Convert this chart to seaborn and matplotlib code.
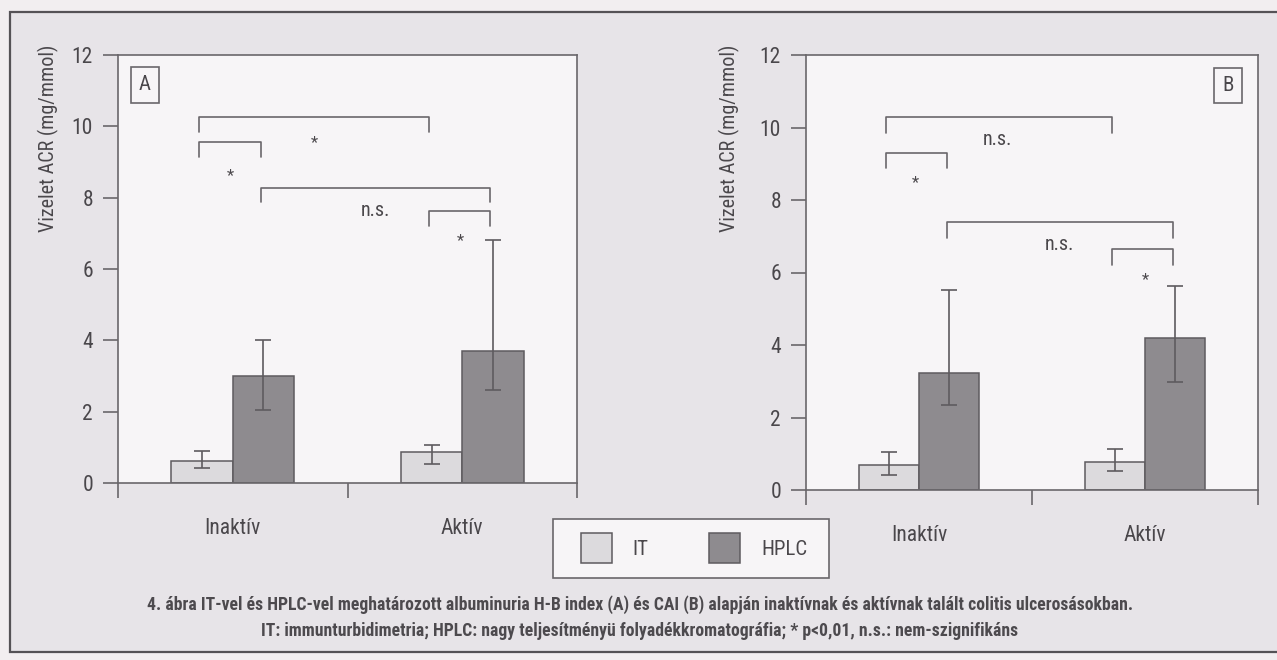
import matplotlib
matplotlib.use("Agg")
import matplotlib.pyplot as plt
from matplotlib import font_manager
from matplotlib.patches import Patch, Rectangle
import pandas as pd
import seaborn as sns

# categories and series
groups = ["Inaktív", "Aktív"]
methods = ["IT", "HPLC"]

# panel A (H-B index): means and error bar limits
a_it = [0.63, 0.88]
a_hplc = [3.0, 3.71]
a_it_low = [0.42, 0.54]
a_it_high = [0.91, 1.07]
a_hplc_low = [2.05, 2.6]
a_hplc_high = [4.0, 6.82]

# panel B (CAI)
b_it = [0.70, 0.76]
b_hplc = [3.24, 4.19]
b_it_low = [0.42, 0.53]
b_it_high = [1.06, 1.13]
b_hplc_low = [2.35, 2.99]
b_hplc_high = [5.52, 5.64]

# significance brackets: (bar i, bar j, top, leg end, label, label x, label y)
# bars: 0 Inaktív IT, 1 Inaktív HPLC, 2 Aktív IT, 3 Aktív HPLC
a_brackets = [(0, 2, 10.26, 9.85, "*", 0.354, 9.55),
              (0, 1, 9.55, 9.13, "*", -0.012, 8.63),
              (1, 3, 8.26, 7.87, "n.s.", 0.62, 7.64),
              (2, 3, 7.63, 7.2, "*", 0.99, 6.81)]
b_brackets = [(0, 2, 10.28, 9.84, "n.s.", 0.346, 9.66),
              (0, 1, 9.29, 8.87, "*", -0.016, 8.48),
              (1, 3, 7.39, 6.96, "n.s.", 0.62, 6.78),
              (2, 3, 6.66, 6.22, "*", 1.0, 5.81)]

caption_1 = ("4. ábra IT-vel és HPLC-vel meghatározott albuminuria H-B index (A) és CAI (B) "
             "alapján inaktívnak és aktívnak talált colitis ulcerosásokban.")
caption_2 = ("IT: immunturbidimetria; HPLC: nagy teljesítményü folyadékkromatográfia; "
             "* p<0,01, n.s.: nem-szignifikáns")

light = "#dcdadd"
dark = "#8e8b8f"
edge = "#5e5b5f"
line_col = "#6a676b"
text_col = "#4a474b"
ax_bg = "#f7f5f7"
fig_bg = "#e7e4e8"


def pick_font():
    # the original uses a condensed sans; take one if it is installed
    fonts = font_manager.fontManager.ttflist
    for pref in ["Liberation Sans Narrow", "Roboto Condensed", "Open Sans Condensed",
                 "Noto Sans", "DejaVu Sans", "Roboto", "Open Sans"]:
        for f in fonts:
            if f.name == pref and ("Narrow" in pref or "Condensed" in pref
                                   or f.stretch in ("condensed", "semi-condensed")):
                return f.name, (f.stretch if f.stretch != "normal" else "normal")
    for f in fonts:
        if "Narrow" in f.name or "Condensed" in f.name:
            return f.name, "normal"
    return "Liberation Sans", "normal"


family, stretch = pick_font()

sns.set_style("ticks")
plt.rcParams["font.family"] = [family, "DejaVu Sans"]
plt.rcParams["font.stretch"] = stretch
plt.rcParams["text.color"] = text_col
plt.rcParams["axes.labelcolor"] = text_col


def make_frame(it, hplc):
    return pd.DataFrame({
        "Csoport": groups * 2,
        "Módszer": [methods[0]] * 2 + [methods[1]] * 2,
        "ACR": list(it) + list(hplc),
    })


def by_bar(it_vals, hplc_vals):
    # order values like the bars from left to right
    out = []
    for k in range(len(groups)):
        out += [it_vals[k], hplc_vals[k]]
    return out


def draw_panel(ax, df, lows, highs, brackets, letter, letter_x, label_x):
    sns.barplot(data=df, x="Csoport", y="ACR", hue="Módszer", order=groups,
                hue_order=methods, palette=[light, dark], width=0.535,
                edgecolor=edge, linewidth=1.1, errorbar=None, legend=False,
                saturation=1, ax=ax)
    ax.set_facecolor(ax_bg)

    bars = sorted(ax.patches, key=lambda p: p.get_x())
    xs = [b.get_x() + b.get_width() / 2 for b in bars]
    heights = [b.get_height() for b in bars]
    ax.errorbar(xs, heights,
                yerr=[[h - lo for h, lo in zip(heights, lows)],
                      [hi - h for h, hi in zip(heights, highs)]],
                fmt="none", ecolor=edge, elinewidth=1.2, capsize=6,
                capthick=1.2, zorder=5)

    for i, j, top, leg, lab, lx, ly in brackets:
        xi, xj = xs[i] - 0.012, xs[j] - 0.012
        ax.plot([xi, xi, xj, xj], [leg, top, top, leg], color=line_col, lw=1.2)
        ax.text(lx, ly, lab, ha="center", va="center",
                fontsize=14.5 if lab == "n.s." else 12, color=text_col)

    ax.set_xlim(-0.5, 1.5)
    ax.set_ylim(0, 12)
    ax.set_yticks(range(0, 13, 2))
    ax.set_xticks([0, 1])
    ax.set_xticklabels(groups)
    ax.set_xticks([-0.5, 0.5, 1.5], minor=True)
    ax.tick_params(axis="x", which="major", length=0, pad=25,
                   labelsize=15.5, labelcolor=text_col)
    ax.tick_params(axis="x", which="minor", length=11, width=1.2,
                   direction="out", color=line_col)
    ax.tick_params(axis="y", length=11, width=1.2, direction="out",
                   color=line_col, pad=7, labelsize=15.5, labelcolor=text_col)
    for s in ax.spines.values():
        s.set_visible(True)
        s.set_color(line_col)
        s.set_linewidth(1.2)

    ax.set_xlabel("")
    ax.set_ylabel("Vizelet ACR (mg/mmol)", loc="top", fontsize=14.5)
    ax.yaxis.set_label_coords(label_x, 1.025)

    ax.text(letter_x, 0.93, letter, transform=ax.transAxes, ha="center",
            va="center", fontsize=15, color=text_col,
            bbox=dict(boxstyle="square,pad=0.4", facecolor="none",
                      edgecolor=line_col, linewidth=1.2))


W, H = 1277, 660
fig = plt.figure(figsize=(W / 100, H / 100), dpi=100)
fig.patch.set_facecolor("#f2eef0")
fig.patches.append(Rectangle((10 / W, 1 - 652 / H), 1.05, (652 - 12) / H,
                             transform=fig.transFigure, facecolor=fig_bg,
                             edgecolor="#555256", linewidth=1.6, zorder=-5))

ax_a = fig.add_axes([118 / W, 1 - 483 / H, 459 / W, 428 / H])
ax_b = fig.add_axes([806 / W, 1 - 490 / H, 452 / W, 435 / H])

draw_panel(ax_a, make_frame(a_it, a_hplc), by_bar(a_it_low, a_hplc_low),
           by_bar(a_it_high, a_hplc_high), a_brackets, "A", 0.059, -0.128)
draw_panel(ax_b, make_frame(b_it, b_hplc), by_bar(b_it_low, b_hplc_low),
           by_bar(b_it_high, b_hplc_high), b_brackets, "B", 0.934, -0.147)

# legend box
fig.patches.append(Rectangle((553 / W, 1 - 578 / H), 276 / W, 59 / H,
                             transform=fig.transFigure, facecolor=ax_bg,
                             edgecolor=line_col, linewidth=1.2, zorder=-1))
handles = [Patch(facecolor=light, edgecolor=edge, linewidth=1.1),
           Patch(facecolor=dark, edgecolor=edge, linewidth=1.1)]
fig.legend(handles, methods, loc="center", bbox_to_anchor=(694 / W, 1 - 548 / H),
           ncol=2, frameon=False, fontsize=15, handlelength=1.5,
           handleheight=1.85, handletextpad=1.0, columnspacing=2.9,
           borderpad=0, labelcolor=text_col)

cap1 = fig.text(640 / W, 1 - 605 / H, caption_1, ha="center", va="center",
                fontsize=13, fontweight="bold", color="#4d4a4e")
cap2 = fig.text(640 / W, 1 - 631 / H, caption_2, ha="center", va="center",
                fontsize=13, fontweight="bold", color="#4d4a4e")

# fit caption to the width it has in the original
fig.canvas.draw()
r = fig.canvas.get_renderer()
w1 = cap1.get_window_extent(r).width
scale = min(1.0, 978 / w1)
cap1.set_fontsize(13 * scale)
cap2.set_fontsize(13 * scale)

fig.savefig("out.png", dpi=100, facecolor=fig.get_facecolor())
